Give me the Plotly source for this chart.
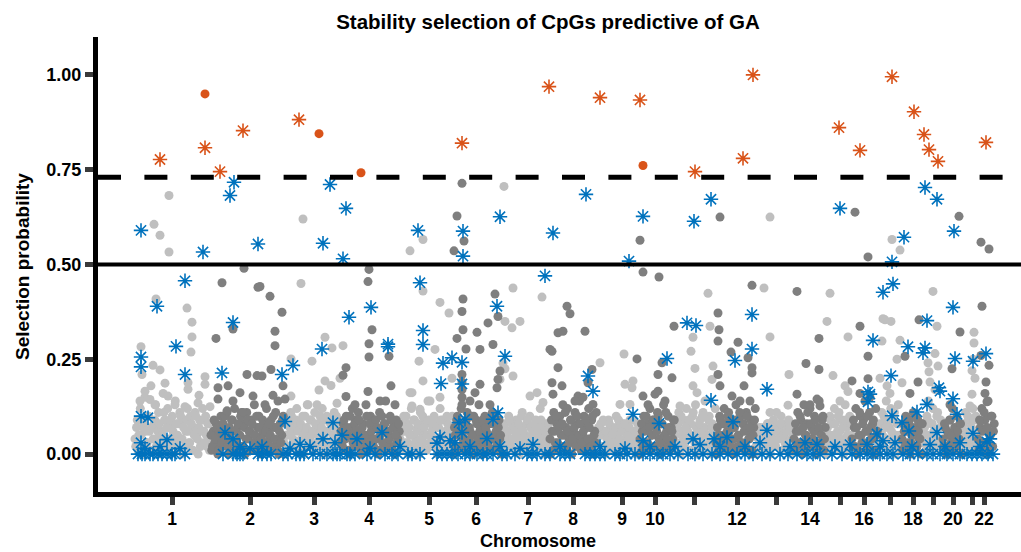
import plotly.graph_objects as go

# ---------------- chromosome layout (cumulative genomic position units) ----------------
chrom_bounds = [135, 211, 284, 341, 400, 453, 502, 550, 597, 640, 675, 716,
                756, 794, 826, 852, 878, 902, 923, 943, 962, 978, 995]
chrom_ticks = [172, 250, 314, 369, 429, 476, 528, 573, 622, 655, 694, 737,
               776, 810, 840, 864, 890, 913, 933, 953, 972, 984]
chrom_labels = ["1", "2", "3", "4", "5", "6", "7", "8", "9", "10", "", "12",
                "", "14", "", "16", "", "18", "", "20", "", "22"]

# ---------------- dense low-probability CpGs per chromosome (values x100) ----------------
band_values = [
    [2,9,5,12,0,7,15,3,10,6,18,1,8,13,4,11,0,6,16,9,3,12,7,0,10,5,14,2,8,11,4,0,9,6,12,3,10,1,7,11,5,0,9,3,12,6,10,2,8,4],
    [1,6,3,8,0,5,10,2,7,4,11,0,6,9,3,12,1,7,5,10,2,8,0,11,4,6,9,1,13,3,7,10,0,5,8,2,12,6,4,9,1,7,11,3,0,8,5,10],
    [0,5,9,2,11,6,3,8,12,1,7,4,10,0,6,13,3,9,5,1,11,7,2,8,4,12,0,6,10,3,9,1,5,11,7,2,8,4],
    [3,8,1,10,5,0,7,12,2,9,4,11,6,0,8,3,13,5,1,10,7,2,9,4,0,11,6,3,8,14,1,5,10,2,7,0,9,4,6],
    [1,6,10,3,8,0,5,12,2,9,4,7,0,11,6,3,9,1,14,5,8,2,10,4,0,7,12,3,9,5,1,8,2,6,10],
    [0,5,9,2,7,12,4,1,8,11,3,6,10,0,5,9,2,13,7,4,0,10,6,3,8,1,11,5,9,2,7,4,0],
    [2,7,0,5,10,3,8,1,6,9,4,0,7,11,2,5,8,3,10,0,6,4,9,1,7,12,3,5,0,8,2,6],
    [0,6,11,3,8,1,10,5,13,2,7,12,4,9,0,6,11,3,8,14,1,5,10,7,2,12,4,9,0,6,11],
    [1,5,8,2,6,0,4,9,3,7,1,5,10,2,6,0,8,3,4,7,1,9,5,2,6,0,8,3],
    [0,6,10,3,8,1,12,5,9,2,7,11,4,0,8,13,3,6,10,1,7,4,9],
    [2,7,11,0,5,9,3,12,6,1,8,10,4,13,0,6,9,3,11,7,2,5,10,0,8,4,12],
    [0,5,10,3,8,12,1,6,11,4,9,0,7,13,2,5,10,3,8,1,11,6,4,9,0,7,12],
    [0,4,7,2,6,1,5,8,3,0,6,9,2,11,4,7,10,1,5,8,3,9,0,6,4],
    [1,6,11,3,9,0,13,5,8,2,12,7,4,10,0,6,14,3,9,1,7],
    [0,5,10,3,8,12,1,6,11,4,9,0,13,7,2,10,5],
    [2,7,12,0,5,10,3,9,14,1,6,11,4,8,0,12,6],
    [0,6,11,3,9,14,1,7,12,4,10,0,8,13,5,2],
    [1,6,10,3,8,0,5,11,2,7,9,4,0,8],
    [0,5,10,14,3,8,12,1,6,11,4,9,2],
    [2,7,0,5,9,3,12,1,6,10,4,8,0],
    [0,6,11,3,9,1,7,12,4,10,5],
    [1,7,12,3,9,0,14,5,10,2,8],
]
band_values_2 = [
    [4,7,1,9,5,2,8,6,3,10,1,7,4,9,2,6,8,3,5,11,1,7,4,9,2,6,3,8,5,1,10,4,7,2,9,6,3,8,1,5,10,4,7,2,6,9,3,5,8,1],
    [5,2,9,4,7,1,6,3,8,10,5,2,7,4,9,1,6,3,8,5,11,2,7,4,9,6,1,8,3,5,10,2,7,4,9,1,6,3,8,5,2,10,4,7,1,6,3,9],
    [3,8,5,1,7,10,4,2,9,6,3,8,1,5,10,7,2,4,9,6,1,8,3,5,10,7,2,4,9,6,3,8,1,5,7,10,4,2],
    [6,2,9,4,7,1,10,5,3,8,6,2,9,4,7,1,5,10,3,8,6,2,4,9,7,1,5,10,3,8,2,6,4,9,1,7,5,3,8],
    [4,8,2,6,10,3,7,1,5,9,3,6,8,2,4,10,7,1,5,9,3,6,2,8,4,7,1,9,5,3,6,10,2,7,4],
    [3,7,1,10,5,8,2,6,4,9,1,7,3,5,10,2,8,4,6,1,9,3,7,5,2,10,4,8,1,6,3,9,5],
    [5,1,8,3,6,9,2,4,7,1,5,8,3,10,6,2,4,9,1,7,5,3,8,2,6,4,9,1,7,3,5,8],
    [4,9,1,6,10,3,7,2,8,5,11,1,6,3,9,4,7,2,10,5,8,3,6,1,9,4,7,2,10,5,3],
    [3,7,1,5,9,2,6,4,8,1,5,3,7,2,9,4,6,1,8,3,5,7,2,4,9,1,6,3],
    [4,8,2,6,10,3,7,1,5,9,2,6,10,3,8,1,5,11,4,7,2,6,9],
    [5,1,8,3,10,6,2,7,4,9,1,5,11,3,7,2,8,4,10,6,1,5,9,3,7,2,6],
    [3,7,1,9,5,2,8,4,10,6,2,7,4,9,1,5,11,3,8,6,2,10,4,7,1,5,9],
    [2,6,1,5,3,7,2,4,8,1,5,3,7,2,6,4,8,1,5,3,6,2,7,4,1],
    [4,8,2,6,10,3,7,1,5,11,4,8,2,6,9,3,7,1,5,10,4],
    [3,7,1,9,5,2,8,4,10,6,2,7,3,9,5,1,8],
    [4,9,2,7,1,11,5,8,3,6,10,2,7,4,9,1,5],
    [3,8,2,5,10,7,4,1,9,6,3,11,5,2,8,4],
    [4,8,2,6,1,9,3,7,5,10,2,6,4,8],
    [3,7,1,9,5,2,8,6,4,10,3,7,1],
    [4,8,2,6,1,9,5,3,7,2,6,4,8],
    [3,8,1,5,10,4,7,2,9,6,3],
    [4,9,2,6,11,3,7,1,5,10,6],
]

# ---------------- scattered CpGs (odd chromosomes = light, even = dark) ----------------
light_x = [154,160,169,169,303,410,423,504,770,892,900,
           156,187,192,192,191,141,153,160,142,205,165,188,205,145,150,168,199,188,140,155,175,185,198,210,
           301,325,332,343,312,291,325,331,319,291,308,317,337,340,
           423,412,412,440,449,435,419,423,410,452,440,430,420,
           505,512,520,505,513,530,537,543,542,513,503,500,
           624,600,625,633,632,620,630,
           708,710,693,691,695,713,712,693,697,680,705,
           764,770,789,788,770,
           830,827,848,833,845,848,840,
           885,891,882,900,897,880,902,887,883,890,
           933,937,935,928,938,929,930,935,
           974,974,972,970,975,972,973]
light_y = [0.606,0.577,0.533,0.682,0.62,0.536,0.566,0.706,0.625,0.566,0.538,
           0.409,0.385,0.348,0.309,0.269,0.283,0.234,0.222,0.21,0.204,0.187,0.188,0.184,0.166,0.144,0.153,0.155,0.171,0.14,0.13,0.13,0.125,0.135,0.125,
           0.45,0.308,0.28,0.286,0.245,0.251,0.193,0.181,0.169,0.153,0.13,0.13,0.134,0.2,
           0.43,0.162,0.127,0.4,0.372,0.276,0.245,0.193,0.162,0.2,0.15,0.14,0.118,
           0.35,0.333,0.35,0.225,0.206,0.153,0.162,0.136,0.414,0.438,0.24,0.197,
           0.264,0.241,0.184,0.193,0.175,0.131,0.131,
           0.424,0.337,0.308,0.271,0.226,0.232,0.197,0.18,0.162,0.127,0.14,
           0.438,0.309,0.21,0.129,0.11,
           0.424,0.35,0.309,0.207,0.18,0.165,0.14,
           0.354,0.35,0.298,0.3,0.25,0.2,0.188,0.18,0.357,0.16,
           0.429,0.337,0.265,0.241,0.232,0.217,0.19,0.17,
           0.321,0.293,0.158,0.127,0.2,0.22,0.25]

dark_x = [462,457,464,454,640,720,855,868,959,981,989,
          244,369,643,659,
          222,258,233,216,247,257,218,228,240,218,233,253,227,243,260,270,282,275,275,262,271,283,265,278,285,273,
          368,372,369,369,389,346,343,391,368,346,355,380,395,
          463,462,495,498,488,477,463,457,466,480,493,500,498,497,480,475,462,462,462,462,462,470,490,
          567,563,558,552,558,552,553,562,570,585,592,588,578,593,575,583,550,
          637,662,658,672,674,643,655,658,665,648,
          718,719,718,718,720,752,738,731,748,752,752,744,732,740,750,
          797,819,806,819,797,817,820,810,
          860,868,868,852,860,870,
          919,905,918,910,
          960,952,950,
          982,981,989,986,987,985]
dark_y = [0.714,0.628,0.562,0.536,0.564,0.625,0.638,0.52,0.627,0.559,0.541,
          0.49,0.487,0.48,0.467,
          0.452,0.44,0.33,0.305,0.21,0.207,0.175,0.18,0.162,0.145,0.14,0.153,0.114,0.11,0.442,0.416,0.374,0.324,0.286,0.206,0.223,0.18,0.13,0.14,0.145,0.155,
          0.455,0.328,0.291,0.256,0.258,0.228,0.208,0.18,0.165,0.152,0.13,0.14,0.13,
          0.409,0.376,0.422,0.363,0.346,0.321,0.328,0.305,0.277,0.276,0.289,0.219,0.197,0.175,0.184,0.162,0.21,0.19,0.17,0.15,0.13,0.14,0.13,
          0.39,0.324,0.32,0.271,0.228,0.188,0.158,0.18,0.37,0.324,0.223,0.188,0.153,0.131,0.14,0.15,0.276,
          0.251,0.241,0.21,0.201,0.337,0.153,0.158,0.166,0.14,0.13,
          0.372,0.328,0.298,0.21,0.18,0.445,0.295,0.269,0.254,0.228,0.214,0.18,0.153,0.14,0.14,
          0.429,0.305,0.239,0.223,0.158,0.145,0.127,0.13,
          0.337,0.258,0.199,0.193,0.16,0.15,
          0.354,0.258,0.19,0.16,
          0.322,0.225,0.13,
          0.39,0.26,0.234,0.19,0.138,0.16]

# ---------------- CpGs marked with asterisks (blue, below threshold) ----------------
blue_x = [141,234,230,203,258,330,346,323,343,418,463,463,500,553,586,643,629,711,694,840,904,892,925,937,954,545,
          185,157,233,176,141,141,185,222,141,148,167,141,225,233,
          349,371,322,388,388,293,282,285,333,342,357,323,300,382,
          420,497,423,423,443,452,462,505,441,462,498,493,459,465,462,487,437,450,533,
          687,696,667,588,593,633,659,711,643,693,714,
          752,873,752,735,767,868,868,733,767,727,817,867,
          883,893,953,927,908,925,923,955,973,986,891,939,940,953,927,917,957,870,892,902,909,937,973,987,877,883,
          880,895,912,930,945,960,980,990,745,760,790,805,835,850,440,455,470,500,520,560,
          262,290,310,335,370,400,145,160,180,240,250,600,625,650,675,700,720]
blue_y = [0.59,0.717,0.682,0.533,0.554,0.711,0.648,0.556,0.515,0.59,0.588,0.522,0.626,0.583,0.685,0.627,0.509,0.672,0.614,0.648,0.572,0.507,0.703,0.672,0.588,0.47,
          0.457,0.39,0.347,0.284,0.256,0.23,0.21,0.214,0.1,0.096,0.038,0.03,0.057,0.04,
          0.361,0.387,0.277,0.29,0.283,0.234,0.21,0.086,0.083,0.05,0.04,0.04,0.026,0.057,
          0.452,0.39,0.326,0.289,0.24,0.254,0.242,0.258,0.186,0.185,0.109,0.092,0.083,0.092,0.057,0.041,0.029,0.035,0.026,
          0.346,0.339,0.252,0.206,0.166,0.105,0.081,0.142,0.035,0.04,0.04,
          0.368,0.3,0.277,0.247,0.171,0.164,0.138,0.085,0.063,0.044,0.026,0.026,
          0.427,0.449,0.387,0.352,0.283,0.28,0.267,0.252,0.245,0.265,0.207,0.175,0.166,0.146,0.131,0.111,0.105,0.158,0.101,0.083,0.061,0.057,0.055,0.032,0.053,0.035,
          0.02,0.03,0.02,0.025,0.02,0.03,0.02,0.04,0.02,0.03,0.02,0.03,0.02,0.025,0.045,0.03,0.02,0.02,0.015,0.02,
          0.02,0.015,0.02,0.03,0.015,0.02,0.015,0.02,0.015,0.02,0.015,0.02,0.015,0.02,0.02,0.025,0.02]

# asterisk CpGs with selection probability 0
blue_zero_x = [138,142,145,150,153,158,162,167,172,175,185,
               223,233,237,240,243,258,262,267,271,283,288,296,300,304,313,320,327,333,337,340,347,350,355,
               367,375,385,392,398,408,412,420,437,442,447,452,458,465,470,477,483,487,493,502,507,515,527,532,537,
               545,550,560,565,570,585,590,595,600,605,615,620,627,635,643,650,657,663,670,678,688,695,703,712,
               720,728,737,745,753,762,770,780,788,797,807,813,820,832,842,852,860,867,873,880,887,893,903,910,
               918,927,933,940,947,953,960,967,972,977,982,988,993]

# ---------------- CpGs above the stability threshold (orange) ----------------
orange_star_x = [160,205,220,243,299,462,549,600,640,695,743,753,839,860,892,914,924,929,938,986]
orange_star_y = [0.777,0.808,0.745,0.853,0.882,0.82,0.969,0.94,0.934,0.745,0.78,1.0,0.861,0.801,0.995,0.903,0.843,0.803,0.772,0.822]
orange_dot_x = [205,319,361,643]
orange_dot_y = [0.95,0.845,0.742,0.761]

threshold = 0.73
baseline = 0.5

LIGHT = "#bfbfbf"
DARK = "#7f7f7f"
BLUE = "#0072BD"
ORANGE = "#D95319"
FONT = "Liberation Sans, Arial, Helvetica, sans-serif"

# band positions spread across each chromosome (two interleaved sets)
band_light_x, band_light_y, band_dark_x, band_dark_y = [], [], [], []
for i in range(len(band_values)):
    s, e = chrom_bounds[i], chrom_bounds[i + 1]
    for vals, off in ((band_values[i], 0.5), (band_values_2[i], 0.0)):
        n = len(vals)
        xs = [s + (j + off) * (e - s) / n for j in range(n)]
        ys = [v / 100 for v in vals]
        if i % 2 == 0:
            band_light_x += xs; band_light_y += ys
        else:
            band_dark_x += xs; band_dark_y += ys

fig = go.Figure()
dot = dict(size=9, line=dict(width=0))
fig.add_trace(go.Scatter(x=band_light_x + light_x, y=band_light_y + light_y, mode="markers",
                         marker=dict(color=LIGHT, **dot), showlegend=False))
fig.add_trace(go.Scatter(x=band_dark_x + dark_x, y=band_dark_y + dark_y, mode="markers",
                         marker=dict(color=DARK, **dot), showlegend=False))
fig.add_trace(go.Scatter(x=blue_zero_x + blue_x, y=[0] * len(blue_zero_x) + blue_y, mode="markers",
                         marker=dict(symbol="asterisk-open", size=12, color=BLUE,
                                     line=dict(color=BLUE, width=1.6)), showlegend=False))
fig.add_trace(go.Scatter(x=orange_star_x, y=orange_star_y, mode="markers",
                         marker=dict(symbol="asterisk-open", size=12, color=ORANGE,
                                     line=dict(color=ORANGE, width=1.6)), showlegend=False))
fig.add_trace(go.Scatter(x=orange_dot_x, y=orange_dot_y, mode="markers",
                         marker=dict(color=ORANGE, size=9, line=dict(width=0)), showlegend=False))

fig.add_shape(type="line", xref="paper", yref="y", x0=0, x1=1, y0=baseline, y1=baseline,
              line=dict(color="black", width=4), layer="above")
fig.add_shape(type="line", xref="paper", yref="y", x0=0, x1=1, y0=threshold, y1=threshold,
              line=dict(color="black", width=5, dash="23px,23.4px"), layer="above")

fig.update_layout(
    width=1021, height=552,
    margin=dict(l=98, r=0, t=37, b=60),
    paper_bgcolor="white", plot_bgcolor="white",
    font=dict(family=FONT, color="black"),
    title=dict(text="Stability selection of CpGs predictive of GA", x=548 / 1021, xref="container",
               xanchor="center", y=1 - 22 / 552, yref="container", yanchor="middle",
               font=dict(size=20.5, family=FONT, weight="bold", color="black")),
    xaxis=dict(range=[98, 1021], tickvals=chrom_ticks, ticktext=chrom_labels,
               showline=True, linewidth=5, linecolor="black", ticks="outside", ticklen=8,
               tickwidth=5, tickcolor="#3a3a3a", showgrid=False, zeroline=False,
               ticklabelstandoff=-1,
               tickfont=dict(size=17.5, family=FONT, weight="bold", color="black")),
    yaxis=dict(range=[-0.1, 1.1], tickvals=[0, 0.25, 0.5, 0.75, 1.0],
               ticktext=["0.00", "0.25", "0.50", "0.75", "1.00"],
               showline=True, linewidth=5, linecolor="black", ticks="outside", ticklen=8,
               tickwidth=5, tickcolor="#3a3a3a", showgrid=False, zeroline=False,
               tickfont=dict(size=18, family=FONT, weight="bold", color="black")),
    annotations=[
        dict(text="Chromosome", xref="paper", yref="paper", x=(538 - 98) / 923, y=(492 - 541) / 455,
             xanchor="center", yanchor="middle", showarrow=False,
             font=dict(size=18, family=FONT, weight="bold", color="black")),
        dict(text="Selection probability", xref="paper", yref="paper", x=(22 - 98) / 923,
             y=(492 - 267) / 455, xanchor="center", yanchor="middle", textangle=-90, showarrow=False,
             font=dict(size=19, family=FONT, weight="bold", color="black")),
    ],
)

fig.write_html("out.html")
